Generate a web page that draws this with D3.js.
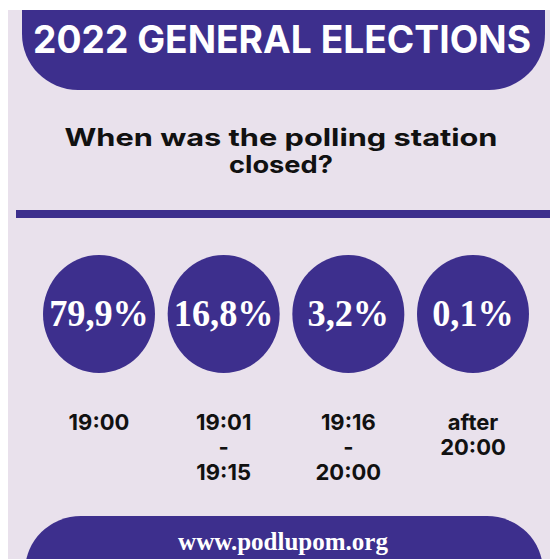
<!DOCTYPE html>
<html>
<head>
<meta charset="utf-8">
<script src="https://cdn.jsdelivr.net/npm/d3@7"></script>
<style>
  html, body { margin: 0; padding: 0; background: #ffffff; }
  svg { display: block; }
</style>
</head>
<body>
<svg id="chart" width="550" height="559"></svg>
<script>
// Closing-time buckets and the share of polling stations in each
const categories = ["19:00", "19:01 - 19:15", "19:16 - 20:00", "after 20:00"];
const categoryLines = [["19:00"], ["19:01", "-", "19:15"], ["19:16", "-", "20:00"], ["after", "20:00"]];
const shares = [79.9, 16.8, 3.2, 0.1];

const title = "2022 GENERAL ELECTIONS";
const question = ["When was the polling station", "closed?"];
const footer = "www.podlupom.org";

const PURPLE = "#3d2f8d";
const BG = "#e9e1ec";

const svg = d3.select("#chart");

// page background
svg.append("rect").attr("x", 8).attr("y", 10).attr("width", 542).attr("height", 549).attr("fill", BG);

// header banner with rounded lower corners
const header = svg.append("g");
header.append("clipPath").attr("id", "hclip")
  .append("rect").attr("x", 8).attr("y", 10).attr("width", 542).attr("height", 549);
header.append("rect")
  .attr("clip-path", "url(#hclip)")
  .attr("x", 22).attr("y", -60).attr("width", 523).attr("height", 150)
  .attr("rx", 56).attr("ry", 56)
  .attr("fill", PURPLE);
header.append("text")
  .attr("x", 282).attr("y", 53)
  .attr("text-anchor", "middle")
  .attr("font-family", "Inter, 'Open Sans', sans-serif")
  .attr("font-weight", 700)
  .attr("font-size", 38)
  .attr("fill", "#ffffff")
  .attr("textLength", 498)
  .attr("lengthAdjust", "spacingAndGlyphs")
  .text(title);

// question
const qWidths = [433, 104];
svg.append("g").selectAll("text").data(question).join("text")
  .attr("x", 281)
  .attr("y", (d, i) => 146 + i * 27)
  .attr("text-anchor", "middle")
  .attr("font-family", "Inter, 'Open Sans', sans-serif")
  .attr("font-weight", 700)
  .attr("font-size", 24)
  .attr("fill", "#111111")
  .attr("textLength", (d, i) => qWidths[i])
  .attr("lengthAdjust", "spacingAndGlyphs")
  .text(d => d);

// divider rule
svg.append("rect").attr("x", 16).attr("y", 210).attr("width", 534).attr("height", 8).attr("fill", PURPLE);

// bubbles
const x = d3.scalePoint().domain(categories).range([99, 473]);
const locale = d3.formatLocale({ decimal: ",", thousands: " ", grouping: [3], currency: ["", ""] });
const fmt = locale.format(".1f");

const cy = 314;
const bubbles = svg.append("g").selectAll("g")
  .data(categories.map((c, i) => ({ c, v: shares[i], lines: categoryLines[i] })))
  .join("g")
  .attr("transform", d => `translate(${x(d.c)},0)`);

bubbles.append("ellipse")
  .attr("cx", 0).attr("cy", cy)
  .attr("rx", 56).attr("ry", 59)
  .attr("fill", PURPLE);

bubbles.append("text")
  .attr("transform", `translate(0,${cy + 12}) scale(0.98,1)`)
  .attr("text-anchor", "middle")
  .attr("font-family", "'Liberation Serif', 'Times New Roman', serif")
  .attr("font-weight", 700)
  .attr("font-size", 37)
  .attr("fill", "#ffffff")
  .text(d => fmt(d.v) + "%");

// closing-time labels
bubbles.append("text")
  .attr("text-anchor", "middle")
  .attr("font-family", "Inter, 'Open Sans', sans-serif")
  .attr("font-weight", 700)
  .attr("font-size", 22)
  .attr("fill", "#111111")
  .selectAll("tspan")
  .data(d => d.lines)
  .join("tspan")
  .attr("x", 0)
  .attr("y", (d, i) => 430 + i * 25)
  .text(d => d);

// footer banner with rounded upper corners
svg.append("rect")
  .attr("x", 25).attr("y", 516).attr("width", 518).attr("height", 110)
  .attr("rx", 56).attr("ry", 56)
  .attr("fill", PURPLE);
svg.append("text")
  .attr("x", 283).attr("y", 550)
  .attr("text-anchor", "middle")
  .attr("font-family", "'Liberation Serif', 'Times New Roman', serif")
  .attr("font-weight", 700)
  .attr("font-size", 25)
  .attr("fill", "#ffffff")
  .text(footer);
</script>
</body>
</html>
